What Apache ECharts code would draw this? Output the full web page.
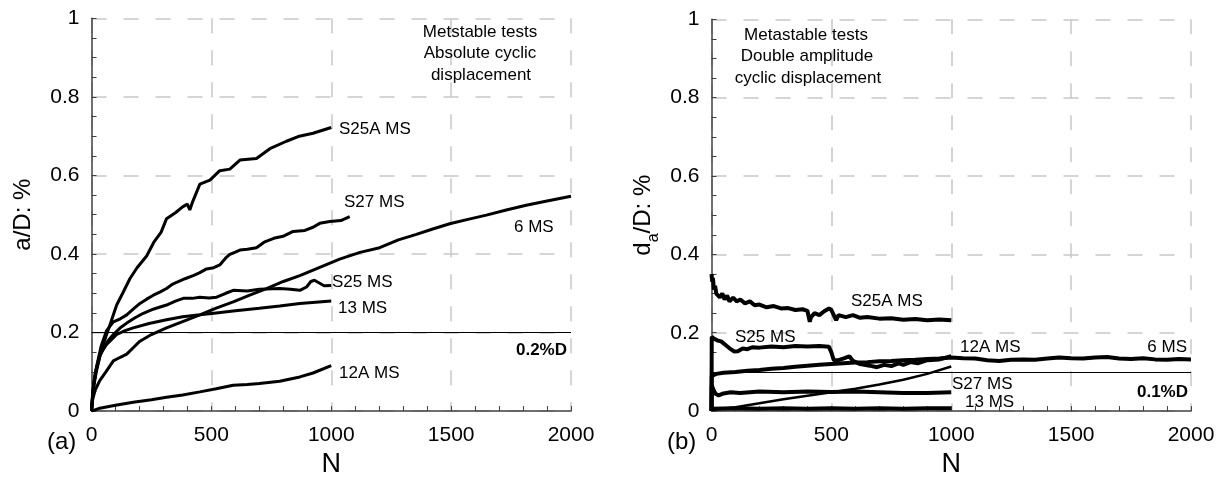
<!DOCTYPE html>
<html>
<head>
<meta charset="utf-8">
<script src="https://cdn.jsdelivr.net/npm/echarts@6/dist/echarts.min.js"></script>
<style>
html,body{margin:0;padding:0;background:#fff;}
#chart{width:1222px;height:483px;}
</style>
</head>
<body>
<div id="chart"></div>
<script>
// ---------- tick labels ----------
const xTicks = [0, 500, 1000, 1500, 2000];
const yTicks = [0, 0.2, 0.4, 0.6, 0.8, 1];

// ---------- (a) absolute cyclic displacement, [N, a/D %] ----------
const a_S25A = [[0,0],[5,0.04],[10,0.065],[20,0.1],[35,0.14],[60,0.19],[80,0.225],[105,0.27],[130,0.30],[160,0.337],[190,0.365],[230,0.395],[260,0.43],[290,0.455],[313,0.49],[350,0.505],[380,0.52],[400,0.527],[410,0.512],[420,0.53],[452,0.578],[494,0.588],[535,0.612],[577,0.616],[619,0.639],[688,0.643],[744,0.668],[813,0.687],[862,0.699],[924,0.7075],[1000,0.722]];
const a_S27 = [[0,0],[5,0.04],[10,0.07],[20,0.11],[40,0.165],[63,0.205],[91,0.227],[120,0.235],[147,0.245],[175,0.26],[202,0.274],[230,0.285],[258,0.295],[285,0.303],[313,0.312],[335,0.322],[355,0.328],[390,0.337],[424,0.345],[450,0.352],[480,0.362],[510,0.365],[535,0.372],[560,0.39],[577,0.399],[600,0.405],[619,0.41],[650,0.412],[688,0.416],[720,0.43],[760,0.44],[799,0.445],[841,0.4575],[890,0.46],[924,0.468],[952,0.478],[994,0.4825],[1040,0.485],[1077,0.495]];
const a_6 = [[0,0],[5,0.03],[15,0.053],[35,0.078],[60,0.1],[91,0.128],[120,0.137],[147,0.145],[175,0.162],[202,0.178],[250,0.195],[313,0.212],[380,0.228],[452,0.245],[520,0.262],[591,0.278],[660,0.295],[730,0.312],[800,0.33],[869,0.345],[952,0.366],[1035,0.387],[1120,0.404],[1202,0.416],[1280,0.436],[1355,0.45],[1420,0.463],[1494,0.477],[1570,0.488],[1647,0.499],[1730,0.512],[1813,0.524],[1900,0.535],[2000,0.547]];
const a_S25 = [[0,0],[5,0.04],[10,0.07],[20,0.105],[35,0.14],[49,0.1575],[70,0.18],[91,0.195],[120,0.212],[147,0.224],[180,0.237],[216,0.249],[260,0.26],[313,0.27],[350,0.28],[383,0.287],[420,0.287],[452,0.29],[490,0.288],[522,0.29],[560,0.3],[591,0.3075],[650,0.306],[700,0.31],[785,0.312],[830,0.31],[869,0.3075],[897,0.316],[915,0.33],[930,0.333],[950,0.326],[970,0.319],[1000,0.32]];
const a_13 = [[0,0],[5,0.05],[15,0.095],[35,0.145],[63,0.17],[105,0.195],[140,0.205],[174,0.212],[240,0.223],[313,0.2325],[380,0.24],[452,0.245],[520,0.25],[591,0.255],[700,0.262],[785,0.2675],[869,0.274],[1000,0.28]];
const a_12A = [[0,0],[35,0.0075],[100,0.015],[174,0.0225],[250,0.029],[313,0.035],[380,0.041],[452,0.049],[520,0.057],[591,0.066],[650,0.068],[700,0.07],[785,0.076],[869,0.087],[924,0.097],[1000,0.116]];
const a_limit = 0.2;

// ---------- (b) double amplitude cyclic displacement, [N, da/D %] ----------
const b_S25A = [[0,0.35],[3,0.33],[6,0.34],[10,0.31],[15,0.32],[20,0.30],[28,0.305],[35,0.29],[45,0.30],[55,0.285],[65,0.295],[75,0.28],[90,0.29],[105,0.28],[120,0.285],[140,0.275],[160,0.28],[180,0.27],[200,0.272],[230,0.265],[260,0.268],[290,0.262],[320,0.263],[350,0.258],[380,0.26],[400,0.256],[410,0.228],[415,0.24],[430,0.25],[450,0.245],[470,0.255],[490,0.262],[500,0.258],[510,0.245],[520,0.232],[530,0.245],[560,0.24],[590,0.245],[620,0.238],[650,0.24],[700,0.236],[750,0.237],[800,0.233],[850,0.235],[900,0.232],[950,0.234],[1000,0.232]];
const b_S25 = [[0,0],[1,0.19],[10,0.185],[25,0.18],[40,0.178],[60,0.168],[80,0.158],[95,0.152],[110,0.153],[130,0.16],[150,0.158],[170,0.163],[200,0.162],[250,0.165],[300,0.163],[350,0.166],[400,0.165],[450,0.166],[490,0.164],[500,0.15],[510,0.13],[530,0.13],[555,0.135],[575,0.14],[590,0.128],[620,0.12],[660,0.116],[690,0.112],[720,0.118],[750,0.115],[780,0.122],[800,0.118],[830,0.125],[860,0.122],[900,0.13],[950,0.132],[1000,0.14]];
const b_6 = [[0,0],[1,0.09],[20,0.095],[50,0.098],[100,0.1],[150,0.103],[200,0.105],[250,0.108],[300,0.11],[350,0.113],[400,0.116],[450,0.118],[500,0.12],[550,0.122],[600,0.124],[650,0.125],[700,0.127],[750,0.128],[800,0.13],[850,0.131],[900,0.133],[950,0.134],[1000,0.137],[1050,0.135],[1100,0.134],[1150,0.13],[1200,0.128],[1250,0.131],[1300,0.132],[1350,0.131],[1400,0.134],[1450,0.137],[1500,0.135],[1550,0.134],[1600,0.137],[1650,0.138],[1700,0.134],[1750,0.133],[1800,0.135],[1850,0.132],[1900,0.131],[1950,0.133],[2000,0.132]];
const b_S27 = [[0,0.003],[100,0.01],[200,0.02],[300,0.03],[400,0.039],[500,0.048],[600,0.057],[700,0.068],[800,0.08],[900,0.095],[1000,0.114]];
const b_13 = [[0,0],[1,0.065],[8,0.055],[15,0.045],[30,0.04],[50,0.045],[80,0.048],[120,0.046],[200,0.05],[300,0.048],[400,0.05],[500,0.049],[600,0.05],[700,0.048],[800,0.046],[900,0.046],[1000,0.048]];
const b_12A = [[0,0.006],[100,0.007],[200,0.006],[300,0.007],[400,0.006],[500,0.007],[600,0.006],[700,0.007],[800,0.006],[900,0.007],[1000,0.007]];
const b_limit = 0.1;

const FONT = "'Liberation Sans', Arial, sans-serif";

function xAxisOf(gi) {
  return {
    gridIndex: gi, type: 'value', min: xTicks[0], max: xTicks[xTicks.length-1], interval: 500,
    name: 'N', nameLocation: 'middle', nameGap: 30,
    nameTextStyle: {fontSize: 27, color: '#000', fontFamily: FONT},
    axisLine: {show: true, onZero: false, lineStyle: {color: '#404040', width: 1.5}},
    axisTick: {show: true, inside: true, length: 5, lineStyle: {color: '#404040'}},
    minorTick: {show: true, splitNumber: 5, length: 5, lineStyle: {color: '#404040'}},
    axisLabel: {fontSize: 21, color: '#000', fontFamily: FONT, margin: 14, formatter: function (v) { return String(v); }},
    splitLine: {show: true, lineStyle: {color: '#c8c8c8', width: 1.5, type: [15, 17]}}
  };
}
function yAxisOf(gi, name, rich) {
  return {
    gridIndex: gi, type: 'value', min: yTicks[0], max: yTicks[yTicks.length-1], interval: 0.2,
    name: name, nameLocation: 'middle', nameGap: 56, nameRotate: 90,
    nameTextStyle: {fontSize: 24, color: '#000', fontFamily: FONT, rich: rich},
    axisLine: {show: true, onZero: false, lineStyle: {color: '#404040', width: 1.5}},
    axisTick: {show: true, inside: true, length: 5, lineStyle: {color: '#404040'}},
    minorTick: {show: true, splitNumber: 4, length: 5, lineStyle: {color: '#404040'}},
    axisLabel: {fontSize: 21, color: '#000', fontFamily: FONT, margin: 12, formatter: function (v) { return String(Math.round(v * 10) / 10); }},
    splitLine: {show: true, lineStyle: {color: '#c8c8c8', width: 1.5, type: [15, 17]}}
  };
}
function line(gi, data, w) {
  return {
    type: 'line', xAxisIndex: gi, yAxisIndex: gi, data: data, showSymbol: false, symbol: 'none',
    lineStyle: {color: '#000', width: w}, z: 5, animation: false, silent: true
  };
}
function limitLine(gi, v) {
  return {
    type: 'line', xAxisIndex: gi, yAxisIndex: gi, data: [], silent: true, animation: false,
    markLine: {symbol: 'none', silent: true, animation: false, label: {show: false},
      lineStyle: {color: '#000', width: 1, type: 'solid'}, data: [{yAxis: v}]}
  };
}
function txt(x, y, s, opt) {
  opt = opt || {};
  return {type: 'text', x: x, y: y, z: 50, silent: true, style: {
    text: s, fill: '#000', fontSize: opt.size || 17, fontFamily: FONT,
    fontWeight: opt.bold ? 'bold' : 'normal',
    textAlign: opt.align || 'left', textVerticalAlign: 'middle'}};
}

const chart = echarts.init(document.getElementById('chart'), null, {renderer: 'canvas'});
chart.setOption({
  backgroundColor: '#fff',
  animation: false,
  grid: [
    {left: 91.5, right: 651, top: 18.3, bottom: 65},
    {left: 711.5, right: 31, top: 19.3, bottom: 63.7}
  ],
  xAxis: [xAxisOf(0), xAxisOf(1)],
  yAxis: [
    yAxisOf(0, 'a/D: %'),
    yAxisOf(1, '{d|d}{s|a}{d|/D: %}', {d: {fontSize: 24, fontFamily: FONT, color: '#000'}, s: {fontSize: 16, fontFamily: FONT, color: '#000', verticalAlign: 'bottom', padding: [0,0,-6,0]}})
  ],
  series: [
    limitLine(0, a_limit),
    line(0, a_S25A, 3), line(0, a_S27, 3), line(0, a_6, 3), line(0, a_S25, 3), line(0, a_13, 3), line(0, a_12A, 3),
    limitLine(1, b_limit),
    line(1, b_S25A, 4), line(1, b_S25, 4), line(1, b_6, 4), line(1, b_S27, 2.5), line(1, b_13, 4), line(1, b_12A, 4)
  ],
  graphic: [
    txt(480, 32, 'Metstable tests', {align: 'center'}),
    txt(480, 53, 'Absolute cyclic', {align: 'center'}),
    txt(481, 75, 'displacement', {align: 'center'}),
    txt(339, 129, 'S25A MS'),
    txt(344, 202, 'S27 MS'),
    txt(514, 227, '6 MS'),
    txt(332, 282, 'S25 MS'),
    txt(338, 308, '13 MS'),
    txt(567, 350, '0.2%D', {align: 'right', bold: true}),
    txt(339, 373, '12A MS'),
    txt(47, 442, '(a)', {size: 24}),

    txt(806, 35, 'Metastable tests', {align: 'center'}),
    txt(807, 56, 'Double amplitude', {align: 'center'}),
    txt(808, 78, 'cyclic displacement', {align: 'center'}),
    txt(851, 301, 'S25A MS'),
    txt(735, 337, 'S25 MS'),
    txt(960, 347, '12A MS'),
    txt(1187, 347, '6 MS', {align: 'right'}),
    txt(952, 384, 'S27 MS'),
    txt(965, 402, '13 MS'),
    txt(1188, 392, '0.1%D', {align: 'right', bold: true}),
    txt(667, 442, '(b)', {size: 24})
  ]
});
</script>
</body>
</html>
